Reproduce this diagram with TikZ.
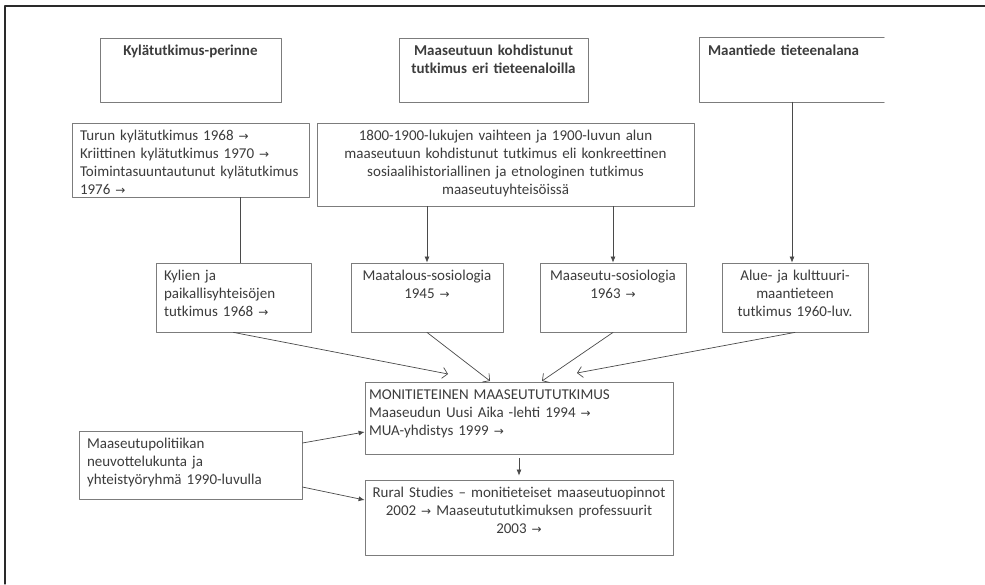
\documentclass[tikz,border=0pt]{standalone}
\usepackage{fontspec}
\setmainfont{Carlito}
\newfontfamily\nuolifont{DejaVu Sans}[Scale=0.8]
\usetikzlibrary{arrows.meta,calc,positioning,shadows}
\definecolor{kylaInk}{HTML}{3C3C3C}
\definecolor{kylaLine}{HTML}{7C7C7C}
\definecolor{kylaFrame}{HTML}{2A2A2A}
\definecolor{kylaWire}{HTML}{4A4A4A}
\newcommand{\nuoli}{{\nuolifont →}}

\begin{document}
\begin{tikzpicture}[x=1pt,y=-1pt,>=Latex,line cap=round,line join=round]
\useasboundingbox[fill=white] (0,0) rectangle (985,584);
\tikzset{plain/.style={fill=white,inner xsep=8pt,inner ysep=4pt,text height=13pt,text=kylaInk,font=\fontsize{15}{18}\selectfont},
  box/.style={plain,draw=kylaLine,line width=0.8pt,drop shadow={shadow xshift=1pt,shadow yshift=-1pt,opacity=0.4}},
  link/.style={draw=kylaWire,line width=0.7pt},
  tip/.style={link,-{Latex[length=6pt,width=5pt]}},
  vtip/.style={link,-{Straight Barb[length=5pt,width=11pt]}}}
\draw[kylaFrame,line width=1.2pt] (985,6) -- (5,6) -- (5,584);
\node[box,minimum width=181pt,minimum height=64pt,text width=165pt,text depth=43pt,align=center,font=\fontsize{15}{18}\selectfont\bfseries] (perinne) at (190.5,70) {Kylätutkimus-perinne};
\node[box,minimum width=189pt,minimum height=64pt,text width=173pt,text depth=43pt,align=center,font=\fontsize{15}{18}\selectfont\bfseries] (tieteet) at (493.5,70) {Maaseutuun kohdistunut\\tutkimus eri tieteenaloilla};
\node[plain,minimum width=184pt,minimum height=64pt,text width=168pt,text depth=43pt,align=left,font=\fontsize{15}{18}\selectfont\bfseries] (maantiede) at (792,70) {Maantiede tieteenalana};
\draw[kylaLine,line width=0.8pt] (maantiede.north east) -- (maantiede.north west) -- (maantiede.south west) -- (maantiede.south east);
\node[box,minimum width=237pt,minimum height=74pt,text width=221pt,text depth=53pt,align=left] (turku) at (190.5,160) {Turun kylätutkimus 1968 \nuoli\\Kriittinen kylätutkimus 1970 \nuoli\\Toimintasuuntautunut kylätutkimus\\1976 \nuoli};
\node[box,minimum width=377pt,minimum height=83pt,text width=361pt,text depth=62pt,align=center] (vaihde) at (505.5,164.5) {1800-1900-lukujen vaihteen ja 1900-luvun alun\\maaseutuun kohdistunut tutkimus eli konkreettinen\\sosiaalihistoriallinen ja etnologinen tutkimus\\maaseutuyhteisöissä};
\node[box,minimum width=155pt,minimum height=69pt,text width=139pt,text depth=48pt,align=left] (kylat) at (233.5,297.5) {Kylien ja\\paikallisyhteisöjen\\tutkimus 1968 \nuoli};
\node[box,minimum width=152pt,minimum height=69pt,text width=136pt,text depth=48pt,align=center] (maatalous) at (427,297.5) {Maatalous-sosiologia\\1945 \nuoli};
\node[box,minimum width=146pt,minimum height=69pt,text width=130pt,text depth=48pt,align=center] (maaseutu) at (613,297.5) {Maaseutu-sosiologia\\1963 \nuoli};
\node[box,minimum width=146pt,minimum height=69pt,text width=130pt,text depth=48pt,align=center] (alue) at (795,297.5) {Alue- ja kulttuuri-\\maantieteen\\tutkimus 1960-luv.};
\node[box,inner xsep=4pt,minimum width=308pt,minimum height=72pt,text width=300pt,text depth=51pt,align=left] (moni) at (519,418) {MONITIETEINEN MAASEUTUTUTKIMUS\\Maaseudun Uusi Aika -lehti 1994 \nuoli\\MUA-yhdistys 1999 \nuoli};
\node[box,inner xsep=1pt,minimum width=308pt,minimum height=75pt,text width=306pt,text depth=54pt,align=center] (rural) at (519,517.5) {Rural Studies – monitieteiset maaseutuopinnot\\2002 \nuoli{} Maaseutututkimuksen professuurit\\2003 \nuoli};
\node[box,minimum width=223pt,minimum height=68pt,text width=207pt,text depth=47pt,align=left] (politiikka) at (190.5,465) {Maaseutupolitiikan\\neuvottelukunta ja\\yhteistyöryhmä 1990-luvulla};
\coordinate (mKylat) at (448,374);
\coordinate (mMaatalous) at (490,381);
\coordinate (mMaaseutu) at (542,381);
\coordinate (mAlue) at (577,373);
\draw[link] ([xshift=6.5pt]kylat.north |- turku.south) -- ([xshift=6.5pt]kylat.north);
\draw[tip] (maatalous.north |- vaihde.south) -- (maatalous.north);
\draw[tip] (maaseutu.north |- vaihde.south) -- (maaseutu.north);
\draw[tip] (maantiede.south) -- (maantiede.south |- alue.north);
\draw[vtip] (kylat.south) -- (mKylat);
\draw[vtip] (maatalous.south) -- (mMaatalous);
\draw[vtip] (maaseutu.south) -- (mMaaseutu);
\draw[vtip] (alue.south) -- (mAlue);
\draw[tip] ([yshift=-4pt]moni.south) -- ([yshift=4pt]rural.north);
\draw[tip] ([yshift=22pt]politiikka.east) -- ([yshift=-14pt]moni.west);
\draw[tip] ([yshift=-22pt]politiikka.east) -- ([yshift=17.5pt]rural.west);
\end{tikzpicture}
\end{document}
